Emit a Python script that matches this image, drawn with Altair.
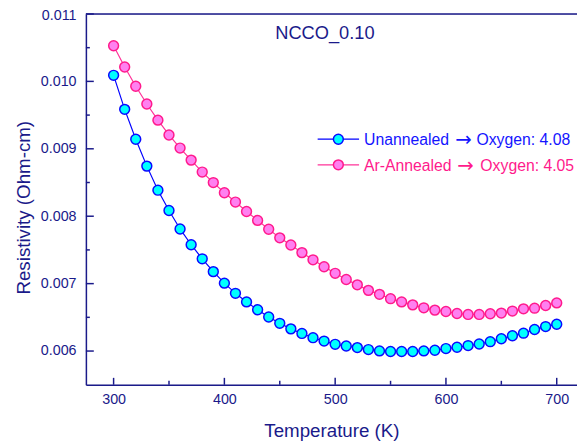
import altair as alt
import pandas as pd

temps = list(range(300, 701, 10))
unannealed = [
    0.01009, 0.009585, 0.009142, 0.008743, 0.008386, 0.008085, 0.007811, 0.007577,
    0.007368, 0.007178, 0.007007, 0.006856, 0.006729, 0.006612, 0.006505, 0.006411,
    0.006329, 0.006261, 0.006198, 0.006148, 0.006100, 0.006075, 0.006051, 0.006022,
    0.006002, 0.005993, 0.005993, 0.005993, 0.006002, 0.006012, 0.006037, 0.006056,
    0.006081, 0.006104, 0.006139, 0.006183, 0.006227, 0.006265, 0.006319, 0.006363,
    0.006397,
]
annealed = [
    0.010528, 0.010214, 0.009928, 0.009664, 0.009425, 0.009205, 0.009011, 0.008832,
    0.008655, 0.008499, 0.008348, 0.008210, 0.008070, 0.007938, 0.007807, 0.007679,
    0.007573, 0.007460, 0.007353, 0.007251, 0.007153, 0.007061, 0.006982, 0.006900,
    0.006841, 0.006777, 0.006729, 0.006685, 0.006641, 0.006607, 0.006587, 0.006557,
    0.006543, 0.006543, 0.006553, 0.006563, 0.006593, 0.006626, 0.006636, 0.006675,
    0.006714,
]
series_names = ["Unannealed \u2192 Oxygen: 4.08", "Ar-Annealed \u2192 Oxygen: 4.05"]
legend_left = ["Unannealed", "Ar-Annealed"]
legend_arrow = "\u2192"
legend_right = ["Oxygen: 4.08", "Oxygen: 4.05"]
line_colors = ["#0000ff", "#ff3399"]
fill_colors = ["#00ffff", "#ff80f0"]
stroke_colors = ["#0a0aff", "#ff1a8c"]
text_colors = ["#1414ff", "#ff1a8c"]
chart_title = "NCCO_0.10"
x_major = [300, 400, 500, 600, 700]
x_minor = [350, 450, 550, 650]
y_major = [0.006, 0.007, 0.008, 0.009, 0.010, 0.011]
y_minor = [0.0065, 0.0075, 0.0085, 0.0095, 0.0105]

NAVY = "#1a1a8a"
FONT = "Liberation Sans"
W, H = 498, 376

rows = []
for name, vals in zip(series_names, [unannealed, annealed]):
    for t, v in zip(temps, vals):
        rows.append({"T": t, "rho": v, "series": name})
df = pd.DataFrame(rows)

xscale = alt.Scale(domain=[275, 718.3], nice=False, zero=False)
yscale = alt.Scale(domain=[0.0055, 0.011], nice=False, zero=False)

xaxis = alt.Axis(
    values=x_major, format="d", tickSize=0, grid=False, domainColor=NAVY, domainWidth=1.5,
    labelFont=FONT, labelFontSize=14.5, labelColor=NAVY, labelPadding=8, labelFlush=False,
    title="Temperature (K)", titleFont=FONT, titleFontSize=19, titleFontWeight="normal",
    titleColor=NAVY, titleY=52, titleBaseline="alphabetic",
)
yaxis = alt.Axis(
    values=y_major, format=".3f", tickSize=0, grid=False, domainColor=NAVY, domainWidth=1.5,
    labelFont=FONT, labelFontSize=14.5, labelColor=NAVY, labelPadding=10, labelFlush=False,
    labelOffset=alt.condition("datum.value > 0.0109", alt.value(2), alt.value(0)),
    title="Resistivity (Ohm-cm)", titleFont=FONT, titleFontSize=19, titleFontWeight="normal",
    titleColor=NAVY, titleX=-57, titleY=196, titleBaseline="alphabetic", titleAngle=-90,
    titleAlign="center",
)

base = alt.Chart(df)
lines = base.mark_line(strokeWidth=1.2).encode(
    x=alt.X("T:Q", scale=xscale, axis=xaxis),
    y=alt.Y("rho:Q", scale=yscale, axis=yaxis),
    color=alt.Color("series:N", scale=alt.Scale(domain=series_names, range=line_colors), legend=None),
)
points = base.mark_point(shape="circle", filled=True, size=100, strokeWidth=1.5, opacity=1).encode(
    x=alt.X("T:Q", scale=xscale),
    y=alt.Y("rho:Q", scale=yscale),
    fill=alt.Fill("series:N", scale=alt.Scale(domain=series_names, range=fill_colors), legend=None),
    stroke=alt.Stroke("series:N", scale=alt.Scale(domain=series_names, range=stroke_colors), legend=None),
)

xmaj = alt.Chart(pd.DataFrame({"t": x_major})).mark_rule(color=NAVY, strokeWidth=1.5).encode(
    x=alt.X("t:Q", scale=xscale), y=alt.value(H), y2=alt.value(H - 7))
xmin = alt.Chart(pd.DataFrame({"t": x_minor})).mark_rule(color=NAVY, strokeWidth=1.5).encode(
    x=alt.X("t:Q", scale=xscale), y=alt.value(H), y2=alt.value(H - 4))
ymaj = alt.Chart(pd.DataFrame({"v": y_major})).mark_rule(color=NAVY, strokeWidth=1.5).encode(
    y=alt.Y("v:Q", scale=yscale), x=alt.value(0), x2=alt.value(8))
ymin = alt.Chart(pd.DataFrame({"v": y_minor})).mark_rule(color=NAVY, strokeWidth=1.5).encode(
    y=alt.Y("v:Q", scale=yscale), x=alt.value(0), x2=alt.value(4))
top = alt.Chart(pd.DataFrame({"a": [0]})).mark_rule(color=NAVY, strokeWidth=1.5).encode(
    y=alt.value(0), x=alt.value(0), x2=alt.value(W))

title = alt.Chart(pd.DataFrame({"t": [chart_title]})).mark_text(
    font=FONT, fontSize=18.5, color=NAVY, align="left", baseline="middle").encode(
    text="t:N", x=alt.value(192), y=alt.value(19))

legend_layers = []
arrow_x = [383, 385]
right_x = [396, 400]
for i, name in enumerate(series_names):
    yy = 127 + 26 * i
    ld = pd.DataFrame({"a": [legend_left[i]], "b": [legend_arrow], "c": [legend_right[i]]})
    legend_layers.append(alt.Chart(ld).mark_rule(color=line_colors[i], strokeWidth=1.2).encode(
        x=alt.value(235), x2=alt.value(277), y=alt.value(yy)))
    legend_layers.append(alt.Chart(ld).mark_point(shape="circle", filled=True, size=100, strokeWidth=1.5,
                                                  opacity=1, fill=fill_colors[i], stroke=stroke_colors[i]).encode(
        x=alt.value(256), y=alt.value(yy)))
    legend_layers.append(alt.Chart(ld).mark_text(font=FONT, fontSize=16, color=text_colors[i], align="left",
                                                 baseline="middle").encode(
        text="a:N", x=alt.value(282), y=alt.value(yy + 1)))
    legend_layers.append(alt.Chart(ld).mark_text(font="DejaVu Sans", fontSize=20, color=text_colors[i],
                                                 align="center", baseline="middle").encode(
        text="b:N", x=alt.value(arrow_x[i]), y=alt.value(yy + 1)))
    legend_layers.append(alt.Chart(ld).mark_text(font=FONT, fontSize=16, color=text_colors[i], align="left",
                                                 baseline="middle").encode(
        text="c:N", x=alt.value(right_x[i]), y=alt.value(yy + 1)))

chart = alt.layer(lines, points, xmaj, xmin, ymaj, ymin, top, title, *legend_layers).properties(
    width=W, height=H,
    autosize=alt.AutoSizeParams(type="none"),
    padding={"left": 79, "top": 3, "right": 0, "bottom": 55},
).configure_view(stroke=None).configure(background="white")

chart.save("out.html", embed_options={"renderer": "svg", "actions": False})
